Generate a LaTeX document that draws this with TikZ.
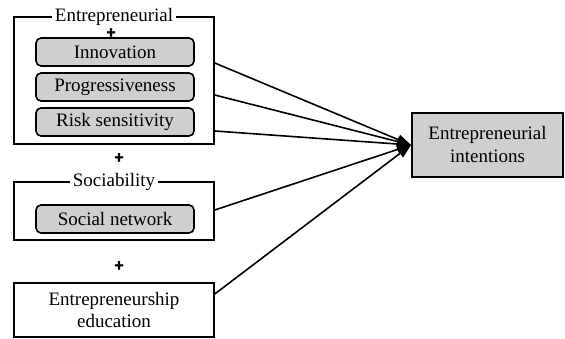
\documentclass[tikz,border=0pt]{standalone}
\usepackage{fontspec}
\setmainfont{Liberation Serif}
\newfontfamily\plusfont[FakeBold=2.5]{Liberation Sans Bold}
\usetikzlibrary{arrows.meta}
\begin{document}
\begin{tikzpicture}[x=1pt,y=-1pt,
  every node/.style={font=\fontsize{19}{23}\selectfont},
  groupbox/.style={draw, line width=1.5pt, minimum width=200pt, inner sep=0pt},
  itembox/.style={draw, line width=1.6pt, rounded corners=5pt, fill=gray!38,
                  minimum width=158pt, minimum height=28pt, inner sep=0pt},
  grouplabel/.style={fill=white, inner xsep=3pt, inner ysep=0pt},
  plussign/.style={font=\plusfont\fontsize{16}{16}\selectfont, inner sep=0pt},
  link/.style={line width=1.6pt},
  arrowlink/.style={link, -{Triangle[length=14pt,width=10pt]}}
]
\useasboundingbox (0,0) rectangle (565,339);

% Entrepreneurial group
\node[groupbox, minimum height=127pt] (ent) at (114,80.5) {};
\node[grouplabel] (entlbl) at (114,16.5) {Entrepreneurial};
\node[plussign] (p1) at (111,33) {+};
\node[itembox] (inn) at (115,52) {Innovation};
\node[itembox] (prog) at (115,87) {Progressiveness};
\node[itembox] (risk) at (115,122) {Risk sensitivity};

\node[plussign] (p2) at (119,158) {+};

% Sociability group
\node[groupbox, minimum height=58pt] (soc) at (114,211) {};
\node[grouplabel] (soclbl) at (114,182) {Sociability};
\node[itembox] (net) at (115,219) {Social network};

\node[plussign] (p3) at (119,266) {+};

% Education
\node[groupbox, minimum height=54pt, align=center] (edu) at (114,310)
  {Entrepreneurship\\education};

% Outcome
\node[draw, line width=1.9pt, fill=gray!38, minimum width=151pt, minimum height=64pt,
      inner sep=0pt, align=center] (tgt) at (487.5,145)
  {Entrepreneurial\\intentions};

% Connectors
\coordinate (s1) at (ent.east |- 0,63);
\coordinate (s2) at (ent.east |- 0,95);
\coordinate (s3) at (ent.east |- 0,131);
\coordinate (s4) at (soc.east |- 0,210);
\coordinate (s5) at (edu.east |- 0,294);
\foreach \s in {s1,s2,s3,s4,s5}
  \draw[arrowlink] (\s) -- (tgt.west);
\end{tikzpicture}
\end{document}
